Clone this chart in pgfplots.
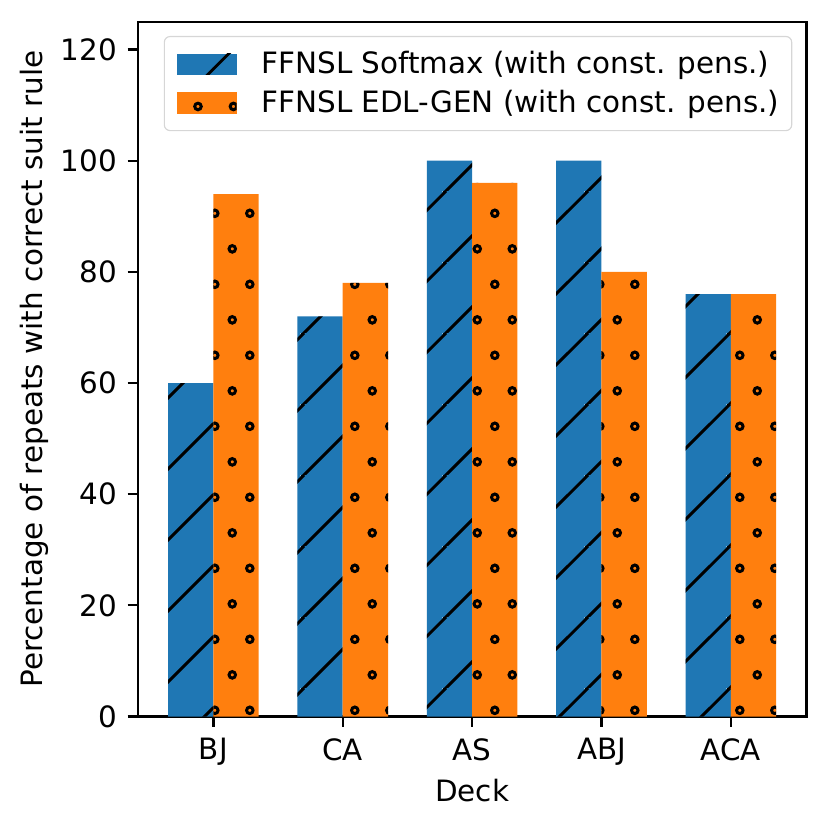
\documentclass[border=0pt]{standalone}
\usepackage{fontspec}
\setmainfont{DejaVu Sans}
\usepackage{pgfplots}
\pgfplotsset{compat=1.18}
\usetikzlibrary{patterns.meta}
\definecolor{c1}{RGB}{31,119,180}
\definecolor{c2}{RGB}{255,127,14}
\tikzdeclarepattern{
  name=mplne,
  type=uncolored,
  bounding box={(0pt,0pt) and (24.85pt,24.85pt)},
  tile size={(24.85pt,24.85pt)},
  code={
    \draw[line width=1pt] (6.35pt,-1pt) -- (25.85pt,18.5pt);
    \draw[line width=1pt] (-1pt,16.5pt) -- (8.35pt,25.85pt);
  }
}
\tikzdeclarepattern{
  name=mplrings,
  type=uncolored,
  bounding box={(0pt,0pt) and (12.43pt,24.85pt)},
  tile size={(12.43pt,24.85pt)},
  code={
    \draw[line width=1.05pt] (1.0pt,17.05pt) circle (1.15pt);
    \draw[line width=1.05pt] (13.43pt,17.05pt) circle (1.15pt);
    \draw[line width=1.05pt] (7.2pt,4.6pt) circle (1.15pt);
  }
}
\newcommand{\fs}{\fontsize{10.3}{12.4}\selectfont}
\begin{document}
\begin{tikzpicture}
\begin{axis}[
  scale only axis,
  width=234.3pt, height=243.4pt,
  xmin=-0.585, xmax=4.585,
  ymin=0, ymax=125,
  xtick={0,1,2,3,4},
  xticklabels={BJ,CA,AS,ABJ,ACA},
  ytick={0,20,40,60,80,100,120},
  tick align=outside,
  major tick length=3.5pt,
  every tick/.style={black, line width=0.8pt},
  axis line style={line width=0.8pt},
  xtick pos=bottom, ytick pos=left,
  /pgf/number format/assume math mode=true,
  yticklabel style={inner sep=0pt, xshift=-3.5pt, font=\fs},
  xticklabel style={inner sep=0pt, yshift=-4pt, font=\fs},
  xlabel={Deck},
  ylabel={Percentage of repeats with correct suit rule},
  xlabel style={inner sep=0pt, yshift=-4.3pt, text depth=2.6pt, font=\fs},
  ylabel style={inner sep=0pt, yshift=4pt, font=\fs},
  legend style={at={(1,1)}, anchor=north east, xshift=-5pt, yshift=-5pt,
    draw=black!16, rounded corners=2pt, fill=white,
    font=\fs, inner xsep=4.3pt, inner ysep=5pt,
    row sep=4.3pt,
    nodes={inner sep=0pt},
    /tikz/every odd column/.append style={column sep=8.75pt}},
  legend cell align=left,
  legend image code/.code={\path[#1, sharp corners] (0pt,-3.7pt) rectangle (21pt,3.7pt);},
]
\addplot[ybar, bar width=0.35, bar shift=-0.175, fill=c1, draw=none,
  postaction={pattern=mplne}] coordinates {(0,60) (1,72) (2,100) (3,100) (4,76)};
\addlegendentry{FFNSL Softmax (with const. pens.)}
\addplot[ybar, bar width=0.35, bar shift=0.175, fill=c2, draw=none,
  postaction={pattern=mplrings}] coordinates {(0,94) (1,78) (2,96) (3,80) (4,76)};
\addlegendentry{FFNSL EDL-GEN (with const. pens.)}
\end{axis}
\path ([shift={(-7.2pt,-7.2pt)}]current bounding box.south west) rectangle ([shift={(7.2pt,7.2pt)}]current bounding box.north east);
\end{tikzpicture}
\end{document}
